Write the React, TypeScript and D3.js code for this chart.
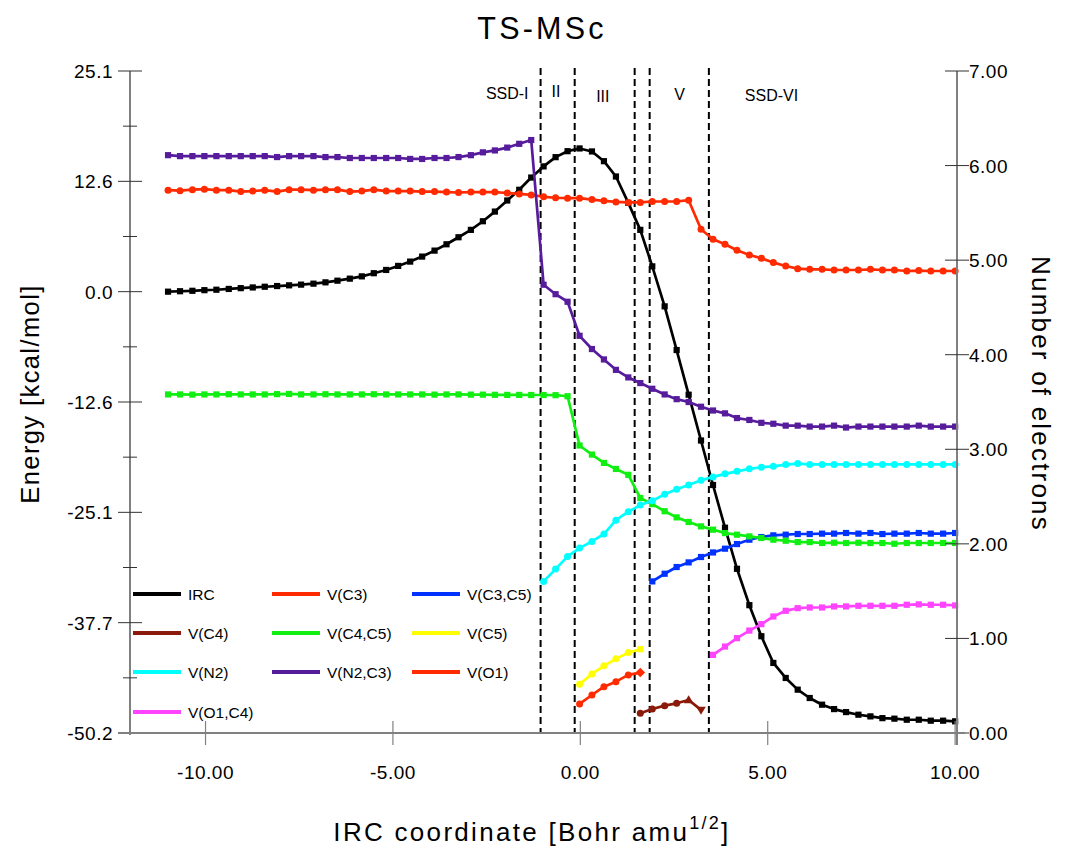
import React from 'react';
import * as d3 from 'd3';

// IRC coordinate grid [Bohr amu^1/2]
const ircCoord = [
  -11.0, -10.68, -10.35, -10.03, -9.71, -9.38, -9.06, -8.74, -8.42, -8.09,
  -7.77, -7.45, -7.12, -6.8, -6.48, -6.15, -5.83, -5.51, -5.18, -4.86,
  -4.54, -4.22, -3.89, -3.57, -3.25, -2.92, -2.6, -2.28, -1.95, -1.63,
  -1.31, -0.98, -0.66, -0.34, -0.02, 0.31, 0.63, 0.95, 1.28, 1.6,
  1.92, 2.25, 2.57, 2.89, 3.22, 3.54, 3.86, 4.18, 4.51, 4.83,
  5.15, 5.48, 5.8, 6.12, 6.45, 6.77, 7.09, 7.42, 7.74, 8.06,
  8.38, 8.71, 9.03, 9.35, 9.68, 10.0,
];

// Energy along the IRC [kcal/mol]
const irc = [
  0.0, 0.05, 0.1, 0.17, 0.22, 0.31, 0.4, 0.48, 0.56, 0.64,
  0.72, 0.8, 0.91, 1.06, 1.25, 1.48, 1.74, 2.1, 2.47, 2.93,
  3.42, 3.99, 4.67, 5.39, 6.19, 7.03, 8.01, 9.11, 10.37, 11.59,
  12.98, 14.25, 15.3, 15.98, 16.29, 15.95, 14.84, 13.1, 10.1, 7.03,
  2.88, -1.67, -6.64, -11.72, -16.93, -21.99, -26.85, -31.52, -35.66, -39.19,
  -42.23, -43.94, -45.27, -46.22, -46.98, -47.48, -47.82, -48.12, -48.31, -48.51,
  -48.57, -48.69, -48.69, -48.8, -48.8, -48.87,
];

// Basin populations [electrons]
const vN2C3 = [
  6.11, 6.1, 6.1, 6.1, 6.1, 6.1, 6.1, 6.1, 6.1, 6.09,
  6.1, 6.1, 6.1, 6.09, 6.09, 6.08, 6.08, 6.08, 6.08, 6.08,
  6.07, 6.07, 6.08, 6.08, 6.09, 6.11, 6.14, 6.16, 6.19, 6.23,
  6.27, 4.74, 4.64, 4.56, 4.2, 4.06, 3.95, 3.84, 3.76, 3.7,
  3.64, 3.58, 3.53, 3.5, 3.45, 3.41, 3.38, 3.33, 3.31, 3.28,
  3.27, 3.25, 3.25, 3.24, 3.24, 3.25, 3.23, 3.24, 3.24, 3.24,
  3.24, 3.24, 3.25, 3.24, 3.24, 3.24,
];
const vC3 = [
  5.74, 5.735, 5.745, 5.75, 5.74, 5.74, 5.725, 5.73, 5.74, 5.725,
  5.745, 5.745, 5.74, 5.745, 5.745, 5.725, 5.73, 5.745, 5.73, 5.73,
  5.73, 5.725, 5.725, 5.72, 5.715, 5.72, 5.72, 5.72, 5.71, 5.7,
  5.69, 5.67, 5.66, 5.655, 5.655, 5.64, 5.627, 5.616, 5.61, 5.61,
  5.62, 5.62, 5.62, 5.634, 5.327, 5.22, 5.168, 5.105, 5.055, 5.02,
  4.974, 4.938, 4.91, 4.903, 4.903, 4.896, 4.896, 4.896, 4.903, 4.896,
  4.896, 4.885, 4.89, 4.885, 4.885, 4.885,
];
const vC4C5 = [
  3.58, 3.58, 3.578, 3.58, 3.58, 3.582, 3.58, 3.58, 3.58, 3.583,
  3.585, 3.58, 3.58, 3.582, 3.58, 3.58, 3.58, 3.582, 3.58, 3.58,
  3.58, 3.58, 3.578, 3.58, 3.58, 3.578, 3.578, 3.576, 3.575, 3.575,
  3.574, 3.574, 3.572, 3.561, 3.04, 2.944, 2.856, 2.792, 2.73, 2.485,
  2.42, 2.345, 2.28, 2.231, 2.185, 2.15, 2.114, 2.097, 2.079, 2.062,
  2.044, 2.033, 2.019, 2.019, 2.009, 2.012, 2.009, 2.012, 2.009, 2.009,
  2.001, 2.009, 2.009, 2.009, 2.009, 2.009,
];
const vN2 = [ // from grid index 31
  1.603, 1.733, 1.867, 1.955, 2.026, 2.104, 2.25, 2.34, 2.41, 2.455,
  2.525, 2.578, 2.622, 2.672, 2.708, 2.74, 2.767, 2.793, 2.81, 2.82,
  2.838, 2.849, 2.84, 2.84, 2.84, 2.84, 2.84, 2.84, 2.84, 2.84,
  2.84, 2.84, 2.84, 2.84, 2.84,
];
const vC3C5 = [ // from grid index 40
  1.603, 1.684, 1.755, 1.804, 1.861, 1.909, 1.949, 1.998, 2.044, 2.072,
  2.09, 2.097, 2.104, 2.104, 2.108, 2.108, 2.115, 2.108, 2.115, 2.104,
  2.108, 2.108, 2.115, 2.108, 2.108, 2.115,
];
const vO1C4 = [ // from grid index 45
  0.826, 0.914, 1.003, 1.083, 1.151, 1.232, 1.292, 1.32, 1.327, 1.327,
  1.338, 1.338, 1.345, 1.345, 1.345, 1.345, 1.356, 1.36, 1.356, 1.356,
  1.349,
];
const vC5 = [0.516, 0.625, 0.71, 0.784, 0.85, 0.886]; // from index 34
const vO1 = [0.307, 0.402, 0.49, 0.543, 0.614, 0.639]; // from index 34
const vC4 = [0.209, 0.254, 0.289, 0.314, 0.349, 0.244]; // from index 39

// Axis ticks
const energyTicks = [25.1, 12.55, 0, -12.55, -25.1, -37.65, -50.2];
const energyTickLabels = ['25.1', '12.6', '0.0', '-12.6', '-25.1', '-37.7', '-50.2'];
const electronTicks = [0, 1, 2, 3, 4, 5, 6, 7];
const electronTickLabels = ['0.00', '1.00', '2.00', '3.00', '4.00', '5.00', '6.00', '7.00'];
const xTicks = [-10, -5, 0, 5, 10];
const xTickLabels = ['-10.00', '-5.00', '0.00', '5.00', '10.00'];

// Structural stability domain boundaries and labels
const boundaries = [-1.06, -0.15, 1.45, 1.85, 3.43];
const domainLabels = ['SSD-I', 'II', 'III', 'V', 'SSD-VI'];
const domainLabelX = [-1.95, -0.65, 0.6, 2.65, 5.1];
const domainLabelY = [99, 97, 102, 100, 101];

type Marker = 'square' | 'circle' | 'diamond' | 'triUp' | 'triDown';
interface Series {
  name: string;
  values: number[];
  start: number;
  axis: 'E' | 'N';
  color: string;
  marker: Marker;
  overrides?: Record<number, Marker>;
}

const series: Series[] = [
  { name: 'IRC', values: irc, start: 0, axis: 'E', color: '#000000', marker: 'square' },
  { name: 'V(C3)', values: vC3, start: 0, axis: 'N', color: '#ff2a00', marker: 'circle' },
  { name: 'V(C3,C5)', values: vC3C5, start: 40, axis: 'N', color: '#0033ff', marker: 'square' },
  { name: 'V(C4)', values: vC4, start: 39, axis: 'N', color: '#8b1a0a', marker: 'circle', overrides: { 4: 'triUp', 5: 'triDown' } },
  { name: 'V(C4,C5)', values: vC4C5, start: 0, axis: 'N', color: '#11ee11', marker: 'square' },
  { name: 'V(C5)', values: vC5, start: 34, axis: 'N', color: '#ffff00', marker: 'circle', overrides: { 5: 'square' } },
  { name: 'V(N2)', values: vN2, start: 31, axis: 'N', color: '#00ffff', marker: 'circle' },
  { name: 'V(N2,C3)', values: vN2C3, start: 0, axis: 'N', color: '#561c9c', marker: 'square' },
  { name: 'V(O1)', values: vO1, start: 34, axis: 'N', color: '#ff2a00', marker: 'circle', overrides: { 5: 'diamond' } },
  { name: 'V(O1,C4)', values: vO1C4, start: 45, axis: 'N', color: '#ff44ff', marker: 'square' },
];

const FONT = '"Liberation Sans", Arial, Helvetica, sans-serif';
const L = 130, R = 957, T = 71, B = 733;

const x = d3.scaleLinear().domain([-12.015, 10.05]).range([L, R]);
const yE = d3.scaleLinear().domain([-50.2, 25.1]).range([B, T]);
const yN = d3.scaleLinear().domain([0, 7]).range([B, T]);

function MarkerShape({ m, cx, cy, color }: { m: Marker; cx: number; cy: number; color: string }) {
  if (m === 'square') return <rect x={cx - 3.1} y={cy - 3.1} width={6.2} height={6.2} fill={color} />;
  if (m === 'circle') return <circle cx={cx} cy={cy} r={3.5} fill={color} />;
  if (m === 'diamond') return <path d={`M${cx},${cy - 4.8}L${cx + 4.8},${cy}L${cx},${cy + 4.8}L${cx - 4.8},${cy}Z`} fill={color} />;
  if (m === 'triUp') return <path d={`M${cx},${cy - 4.8}L${cx + 4.8},${cy + 3.2}L${cx - 4.8},${cy + 3.2}Z`} fill={color} />;
  return <path d={`M${cx},${cy + 4.8}L${cx + 4.8},${cy - 3.2}L${cx - 4.8},${cy - 3.2}Z`} fill={color} />;
}

export default function App() {
  const axisColor = '#808080';
  const tickColor = '#333333';
  const minorE = d3.pairs(energyTicks).map(([a, b]) => (a + b) / 2);

  const legendCols = [133, 272, 412];
  const legendRows = [594, 633, 672, 712];

  return (
    <svg width={1081} height={852} style={{ display: 'block', background: '#fff', position: 'absolute', left: 0, top: 0 }} fontFamily={FONT}>
      {/* title */}
      <text x={542} y={39} textAnchor="middle" fontSize={30.5} letterSpacing={3.2}>TS-MSc</text>

      {/* dashed boundaries */}
      {boundaries.map((b, i) => (
        <line key={'b' + i} x1={x(b)} x2={x(b)} y1={68} y2={B} stroke="#000" strokeWidth={2} strokeDasharray="7,4" />
      ))}
      {domainLabels.map((t, i) => (
        <text key={'dl' + i} x={x(domainLabelX[i])} y={domainLabelY[i]} textAnchor="middle" fontSize={16}>{t}</text>
      ))}

      {/* series */}
      {series.map((s) => {
        const ys = s.axis === 'E' ? yE : yN;
        const pts = s.values.map((v, k) => [x(ircCoord[s.start + k]), ys(v)] as [number, number]);
        const line = d3.line()(pts) || '';
        return (
          <g key={s.name}>
            <path d={line} fill="none" stroke={s.color} strokeWidth={2.7} strokeLinejoin="round" />
            {pts.map((p, k) => (
              <MarkerShape key={k} m={(s.overrides && s.overrides[k]) || s.marker} cx={p[0]} cy={p[1]} color={s.color} />
            ))}
          </g>
        );
      })}

      {/* left axis */}
      <line x1={L} x2={L} y1={T} y2={B + 2} stroke={axisColor} strokeWidth={2} />
      {energyTicks.map((t, i) => (
        <g key={'e' + i}>
          <line x1={L - 12} x2={L + 12} y1={yE(t)} y2={yE(t)} stroke={tickColor} strokeWidth={1} />
          <text x={113} y={yE(t) + 7} textAnchor="end" fontSize={19} letterSpacing={0.5}>{energyTickLabels[i]}</text>
        </g>
      ))}
      {minorE.map((t, i) => (
        <line key={'me' + i} x1={L - 7} x2={L + 7} y1={yE(t)} y2={yE(t)} stroke={tickColor} strokeWidth={1} />
      ))}

      {/* right axis */}
      <line x1={R} x2={R} y1={T} y2={B + 12} stroke={axisColor} strokeWidth={2} />
      {electronTicks.map((t, i) => (
        <g key={'n' + i}>
          <line x1={R - 12} x2={R + 12} y1={yN(t)} y2={yN(t)} stroke={tickColor} strokeWidth={1} />
          <text x={969} y={yN(t) + 7} textAnchor="start" fontSize={19} letterSpacing={0.5}>{electronTickLabels[i]}</text>
        </g>
      ))}

      {/* bottom axis */}
      <line x1={L - 12} x2={R + 8} y1={B} y2={B} stroke={axisColor} strokeWidth={2} />
      {xTicks.map((t, i) => (
        <g key={'x' + i}>
          <line x1={x(t)} x2={x(t)} y1={B - 12} y2={B + 12} stroke={axisColor} strokeWidth={1.2} />
          <text x={x(t)} y={779} textAnchor="middle" fontSize={19} letterSpacing={0.5}>{xTickLabels[i]}</text>
        </g>
      ))}

      {/* axis titles */}
      <text transform="translate(39,394) rotate(-90)" textAnchor="middle" fontSize={25.5} letterSpacing={1.4}>Energy [kcal/mol]</text>
      <text transform="translate(1032,394) rotate(90)" textAnchor="middle" fontSize={26} letterSpacing={2.2}>Number of electrons</text>
      <text x={532} y={841} textAnchor="middle" fontSize={26} letterSpacing={2.3}>
        IRC coordinate [Bohr amu<tspan dy={-12} fontSize={18}>1/2</tspan><tspan dy={12}>]</tspan>
      </text>

      {/* legend */}
      {series.map((s, i) => {
        const cx = legendCols[i % 3];
        const cy = legendRows[Math.floor(i / 3)];
        return (
          <g key={'lg' + i}>
            <line x1={cx} x2={cx + 48} y1={cy} y2={cy} stroke={s.color} strokeWidth={4} />
            <text x={cx + 55} y={cy + 6} fontSize={15.5}>{s.name}</text>
          </g>
        );
      })}
    </svg>
  );
}
